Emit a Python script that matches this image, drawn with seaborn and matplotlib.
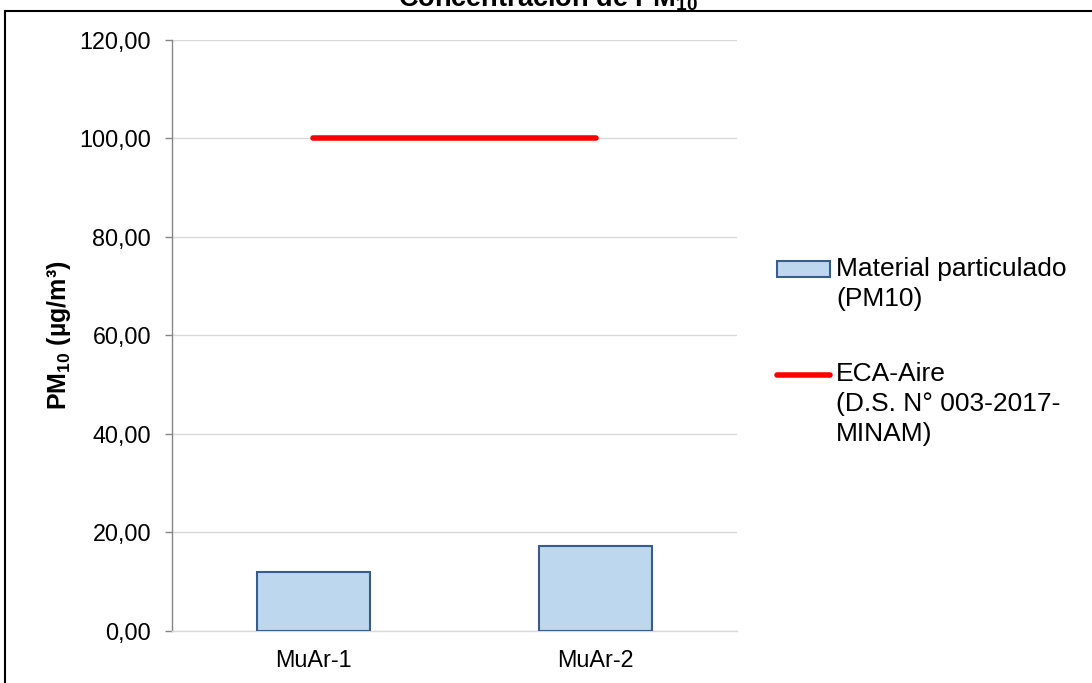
import numpy as np
import pandas as pd
import matplotlib
matplotlib.use("Agg")
import matplotlib.pyplot as plt
import seaborn as sns
from matplotlib.patches import Patch, Rectangle
from matplotlib.lines import Line2D
from matplotlib.legend_handler import HandlerPatch, HandlerLine2D
from matplotlib.transforms import Affine2D
from matplotlib.ticker import FuncFormatter

# ---- data ----
categories = ["MuAr-1", "MuAr-2"]
pm10_values = [12.04, 17.32]
eca_values = [100.0, 100.0]
y_ticks = [0, 20, 40, 60, 80, 100, 120]
title_text = "Concentración de $\\mathbf{PM_{10}}$"
ylabel_text = "$\\mathbf{PM_{10}}$ (µg/m³)"
legend_labels = ["Material particulado\n(PM10)", "ECA-Aire\n(D.S. N° 003-2017-\nMINAM)"]

BAR_FILL = "#BDD7EE"
BAR_EDGE = "#385D8A"
LINE_RED = "#FF0000"

sns.set_theme(style="white")
plt.rcParams["font.family"] = ["Liberation Sans", "DejaVu Sans"]
plt.rcParams["mathtext.fontset"] = "custom"
plt.rcParams["mathtext.rm"] = "Liberation Sans"
plt.rcParams["mathtext.bf"] = "Liberation Sans:bold"
plt.rcParams["mathtext.it"] = "Liberation Sans:italic"
plt.rcParams["text.color"] = "black"
plt.rcParams["axes.labelcolor"] = "black"
plt.rcParams["xtick.color"] = "black"
plt.rcParams["ytick.color"] = "black"

W, H = 1092, 683
fig = plt.figure(figsize=(W / 100, H / 100), dpi=100)
ax = fig.add_axes([172 / W, 1 - 631 / H, (737 - 172) / W, (631 - 39.5) / H])

df = pd.DataFrame({"Muestra": categories, "PM10": pm10_values})
sns.barplot(data=df, x="Muestra", y="PM10", ax=ax, width=0.4, color=BAR_FILL,
            saturation=1, edgecolor=BAR_EDGE, linewidth=1.5, zorder=3)
sns.lineplot(x=np.arange(len(categories)), y=eca_values, ax=ax, color=LINE_RED,
             linewidth=4, legend=False, zorder=4)

ax.set_xlim(-0.5, 1.5)
ax.set_ylim(0, 120)
ax.set_yticks(y_ticks)
ax.yaxis.set_major_formatter(FuncFormatter(lambda v, p: f"{v:.2f}".replace(".", ",")))
ax.grid(axis="y", color="#D9D9D9", linewidth=1.0)
ax.grid(axis="x", visible=False)
ax.set_axisbelow(True)
for s in ["top", "right"]:
    ax.spines[s].set_visible(False)
ax.spines["left"].set_color("#868686")
ax.spines["left"].set_linewidth(1.0)
ax.spines["bottom"].set_color("#D9D9D9")
ax.spines["bottom"].set_linewidth(1.0)
ax.tick_params(axis="y", left=True, length=5, width=1, color="#868686", pad=10,
               labelsize=16.8, labelcolor="black")
ax.tick_params(axis="x", length=0, pad=13, labelsize=16.8, labelcolor="black")
ax.set_xlabel("")
ax.set_ylabel(ylabel_text, fontsize=18, fontweight="bold", color="black")
ax.yaxis.set_label_coords(-0.176, 0.5)


class ShiftPatch(HandlerPatch):
    def __init__(self, dy, **kw):
        super().__init__(**kw)
        self.dy = dy

    def create_artists(self, legend, orig_handle, xdescent, ydescent, width, height, fontsize, trans):
        return super().create_artists(legend, orig_handle, xdescent, ydescent, width, height,
                                      fontsize, trans + Affine2D().translate(0, self.dy))


class ShiftLine(HandlerLine2D):
    def __init__(self, dy, **kw):
        super().__init__(**kw)
        self.dy = dy

    def create_artists(self, legend, orig_handle, xdescent, ydescent, width, height, fontsize, trans):
        return super().create_artists(legend, orig_handle, xdescent, ydescent, width, height,
                                      fontsize, trans + Affine2D().translate(0, self.dy))


LEG_FS = 19
fs_px = LEG_FS * 100 / 72
line_px = 30.5
h_patch = Patch(facecolor=BAR_FILL, edgecolor=BAR_EDGE, linewidth=1.5)
h_line = Line2D([], [], color=LINE_RED, linewidth=4, solid_capstyle="round")
leg = fig.legend([h_patch, h_line], legend_labels,
                 loc="upper left", bbox_to_anchor=(777 / W, 1 - 257 / H),
                 frameon=False, borderpad=0, borderaxespad=0,
                 fontsize=LEG_FS, handlelength=53 / fs_px, handleheight=0.53,
                 handletextpad=6 / fs_px, labelspacing=1.95,
                 handler_map={h_patch: ShiftPatch(0.5 * line_px),
                              h_line: ShiftLine(1.0 * line_px)})
for t in leg.get_texts():
    t.set_linespacing(1.31)
    t.set_color("black")

fig.text(548 / W, 1 - 6.5 / H, title_text, ha="center", va="baseline",
         fontsize=19.5, fontweight="bold", color="black")

fig.add_artist(Rectangle((5 / W, -0.5), 2.0, 1.5 - 10.7 / H, transform=fig.transFigure,
                         facecolor="none", edgecolor="black", linewidth=1.5))

fig.savefig("out.png", dpi=100)
